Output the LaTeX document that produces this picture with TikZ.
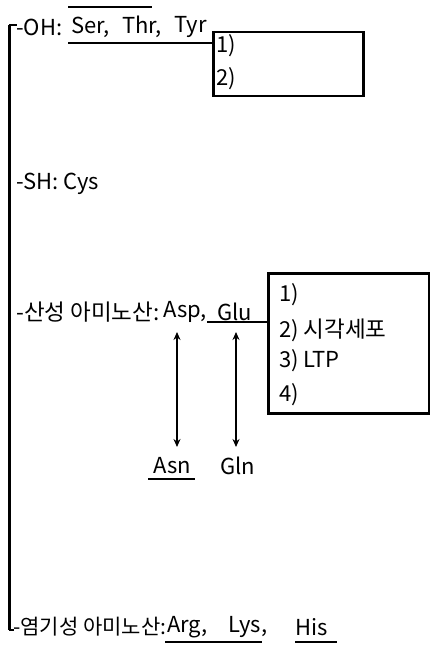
\documentclass[tikz,border=0pt]{standalone}
\usepackage{fontspec}
\setmainfont{Noto Sans CJK KR}
\newfontfamily\kr{Noto Sans CJK KR}
\usetikzlibrary{arrows.meta}
\begin{document}
\begin{tikzpicture}[x=1pt,y=-1pt,
  lbl/.style={anchor=west,inner sep=0pt,font=\fontsize{22}{24}\selectfont},
  krl/.style={anchor=west,inner sep=0pt,font=\fontsize{22.5}{24}\kr},
  krs/.style={anchor=west,inner sep=0pt,font=\fontsize{21}{24}\kr},
  boxf/.style={draw,line width=2.5pt,anchor=north west,inner sep=0pt},
  thick line/.style={line width=2.5pt},
  spine/.style={line width=3pt},
  dbl/.style={{Stealth[length=8pt,width=7pt]}-{Stealth[length=8pt,width=7pt]},line width=1.3pt}]
\useasboundingbox (0,0) rectangle (430,647);
% spine
\coordinate (top) at (9,25);
\coordinate (bot) at (9,630);
\draw[spine] (top) -- (bot);
\draw[line width=2pt] (top) -- (17,25);
\draw[line width=2pt] (bot) -- (14,630);
% OH row
\node[lbl] (oh) at (16,27) {-OH:};
\node[lbl] (ser) at (71,27) {Ser,};
\node[lbl] (thr) at (122,27) {Thr,};
\node[lbl] (tyr) at (174,27) {Tyr};
\coordinate (ov1) at (68,7);
\coordinate (ov2) at (152,7);
\draw[line width=2pt] (ov1) -- (ov2);
\node[boxf,minimum width=150pt,minimum height=64pt] (box1) at (212,31) {};
\node[lbl] (b1a) at (216,46) {1)};
\node[lbl] (b1b) at (216,79) {2)};
\coordinate (u1) at (68,43);
\draw[thick line] (u1) -- (box1.west |- u1);
% SH row
\node[lbl] (sh) at (16,184) {-SH: Cys};
% acidic row
\node[krl] (acid) at (16,312) {-산성 아미노산:};
\node[lbl] (asp) at (163,312) {Asp,};
\node[lbl] (glu) at (217,312) {Glu};
\node[boxf,minimum width=161pt,minimum height=140pt] (box2) at (267,272) {};
\node[lbl] (b2a) at (279,295) {1)};
\node[lbl] (b2b) at (279,330) {2) {\fontsize{22.5}{24}\selectfont 시각세포}};
\node[lbl] (b2c) at (279,361) {3) LTP};
\node[lbl] (b2d) at (279,395) {4)};
\coordinate (u2) at (207,322);
\draw[thick line] (u2) -- (box2.west |- u2);
% arrows
\coordinate (a1t) at (177,332);
\coordinate (a1b) at (177,447);
\coordinate (a2t) at (236,332);
\coordinate (a2b) at (236,447);
\draw[dbl] (a1t) -- (a1b);
\draw[dbl] (a2t) -- (a2b);
\node[lbl,anchor=center] (asn) at (172,466) {Asn};
\node[lbl,anchor=center] (gln) at (238,466) {Gln};
\coordinate (u3a) at (148,479);
\coordinate (u3b) at (195,479);
\draw[thick line] (u3a) -- (u3b);
% basic row
\node[krs] (basic) at (13,627) {-염기성 아미노산:};
\node[lbl] (arg) at (167,627) {Arg,};
\node[lbl] (lys) at (228,627) {Lys,};
\node[lbl] (his) at (295,627) {His};
\coordinate (u4a) at (165,642);
\coordinate (u4b) at (262,642);
\coordinate (u5a) at (295,642);
\coordinate (u5b) at (337,642);
\draw[thick line] (u4a) -- (u4b);
\draw[thick line] (u5a) -- (u5b);
\end{tikzpicture}
\end{document}
